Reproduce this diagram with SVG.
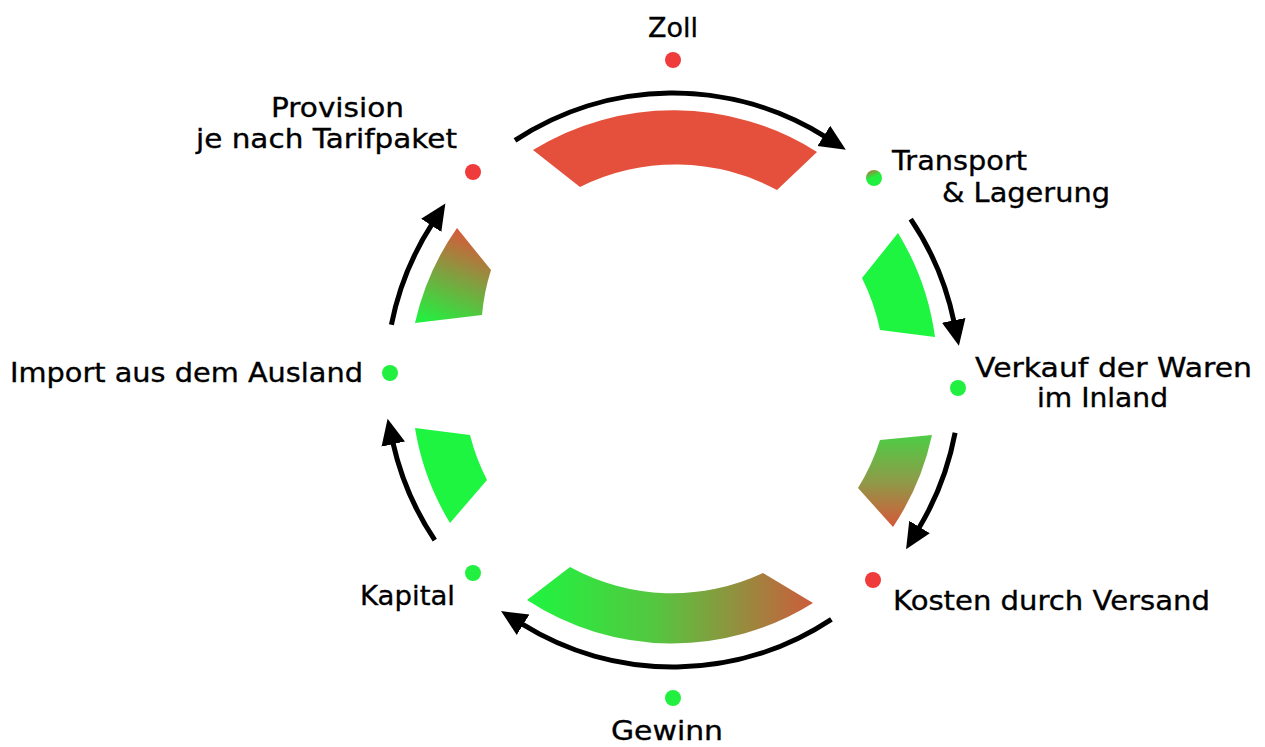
<svg xmlns="http://www.w3.org/2000/svg" width="1265" height="747" viewBox="0 0 1265 747">
<style>
.lbl{font-family:"DejaVu Sans","Liberation Sans",sans-serif;font-size:27px;fill:#000;stroke:#000;stroke-width:0.35}
.arc{fill:none;stroke:#000;stroke-width:5;marker-end:url(#ah)}
.red{fill:#ef3b3b}
.grn{fill:#22f040}
</style>
<defs>
<marker id="ah" markerUnits="userSpaceOnUse" markerWidth="30" markerHeight="30" refX="2" refY="13" orient="auto">
<path d="M0,1 L26,13 L0,25 Z" fill="#000"/>
</marker>
<linearGradient id="gLR" gradientUnits="userSpaceOnUse" x1="0" y1="437" x2="0" y2="527">
<stop offset="0" stop-color="#4fcb45"/><stop offset="0.5" stop-color="#8f9a48"/><stop offset="1" stop-color="#d6583a"/>
</linearGradient>
<linearGradient id="gB" gradientUnits="userSpaceOnUse" x1="527" y1="0" x2="813" y2="0">
<stop offset="0" stop-color="#1ef540"/><stop offset="0.45" stop-color="#55c640"/><stop offset="1" stop-color="#cc5c3c"/>
</linearGradient>
<linearGradient id="gUL" gradientUnits="userSpaceOnUse" x1="463" y1="230" x2="425" y2="322">
<stop offset="0" stop-color="#d8583a"/><stop offset="0.5" stop-color="#7aa540"/><stop offset="1" stop-color="#22f040"/>
</linearGradient>
<linearGradient id="gDot" x1="0" y1="0" x2="0.4" y2="1">
<stop offset="0" stop-color="#c8603c"/><stop offset="0.55" stop-color="#22f040"/><stop offset="1" stop-color="#22f040"/>
</linearGradient>
</defs>

<g id="segments">
<path id="seg-top" d="M533,150 A268,268 0 0 1 817,152 L777,190 A214,214 0 0 0 580,187 Z" fill="#e5503c"/>
<path id="seg-upper-right" d="M898,233 A267,267 0 0 1 935,337 L880,330 A214,214 0 0 0 862,278 Z" fill="#1ef540"/>
<path id="seg-lower-right" d="M932,435 A265,265 0 0 1 893,527 L858,488 A214,214 0 0 0 880,440 Z" fill="url(#gLR)"/>
<path id="seg-bottom" d="M813,603 A265,265 0 0 1 527,600 L570,567 A213,213 0 0 0 763,573 Z" fill="url(#gB)"/>
<path id="seg-lower-left" d="M450,523 A264,264 0 0 1 415,428 L470,435 A211,211 0 0 0 487,480 Z" fill="#1ef540"/>
<path id="seg-upper-left" d="M415,323 A265,265 0 0 1 457,228 L491,270 A211,211 0 0 0 482,315 Z" fill="url(#gUL)"/>
</g>

<g id="connectors">
<path class="arc" d="M515,140.4 A287,287 0 0 1 825.5,136.9"/>
<path class="arc" d="M910.7,219.1 A287,287 0 0 1 954.1,322.3"/>
<path class="arc" d="M955.1,432.8 A287,287 0 0 1 918.5,528.7"/>
<path class="arc" d="M831.4,619.3 A287,287 0 0 1 521.4,623.7"/>
<path class="arc" d="M434.8,540.1 A287,287 0 0 1 392.8,442.1"/>
<path class="arc" d="M391.4,324.8 A287,287 0 0 1 432.3,223.7"/>
</g>

<g id="node-zoll">
<circle class="red" cx="673" cy="60" r="8"/>
<text class="lbl" x="673" y="37" text-anchor="middle">Zoll</text>
</g>
<g id="node-transport">
<circle cx="874" cy="178" r="8" fill="url(#gDot)"/>
<text class="lbl" x="892" y="170" textLength="135" lengthAdjust="spacingAndGlyphs">Transport</text>
<text class="lbl" x="942" y="202" textLength="168" lengthAdjust="spacingAndGlyphs">&amp; Lagerung</text>
</g>
<g id="node-verkauf">
<circle class="grn" cx="958" cy="388" r="8"/>
<text class="lbl" x="975" y="377" textLength="277" lengthAdjust="spacingAndGlyphs">Verkauf der Waren</text>
<text class="lbl" x="1037" y="407" textLength="131" lengthAdjust="spacingAndGlyphs">im Inland</text>
</g>
<g id="node-kosten">
<circle class="red" cx="873" cy="580" r="8"/>
<text class="lbl" x="893" y="610" textLength="317" lengthAdjust="spacingAndGlyphs">Kosten durch Versand</text>
</g>
<g id="node-gewinn">
<circle class="grn" cx="673" cy="698" r="8"/>
<text class="lbl" x="611" y="740" textLength="112" lengthAdjust="spacingAndGlyphs">Gewinn</text>
</g>
<g id="node-kapital">
<circle class="grn" cx="473" cy="573" r="8"/>
<text class="lbl" x="360" y="605" textLength="95" lengthAdjust="spacingAndGlyphs">Kapital</text>
</g>
<g id="node-import">
<circle class="grn" cx="390" cy="373" r="8"/>
<text class="lbl" x="10" y="382" textLength="353" lengthAdjust="spacingAndGlyphs">Import aus dem Ausland</text>
</g>
<g id="node-provision">
<circle class="red" cx="473" cy="172" r="8"/>
<text class="lbl" x="271" y="117" textLength="133" lengthAdjust="spacingAndGlyphs">Provision</text>
<text class="lbl" x="196" y="148" textLength="261" lengthAdjust="spacingAndGlyphs">je nach Tarifpaket</text>
</g>
</svg>
